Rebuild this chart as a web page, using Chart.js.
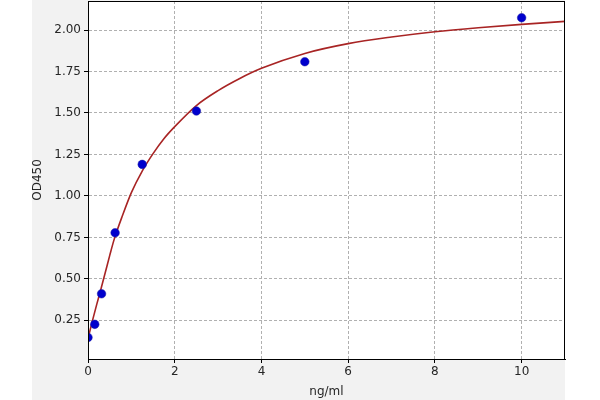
<!DOCTYPE html>
<html>
<head>
<meta charset="utf-8">
<script src="https://cdn.jsdelivr.net/npm/chart.js@4.4.0/dist/chart.umd.min.js"></script>
<style>
    html, body { margin: 0; padding: 0; background: #fff; }
    #wrap { width: 600px; height: 400px; }
</style>
</head>
<body>
<div id="wrap"><canvas id="stdCurve" width="600" height="400"></canvas></div>
<script>
// Standards (ng/ml) and the measured OD450.
const concentrations = [0, 0.156, 0.3125, 0.625, 1.25, 2.5, 5, 10];
const odValues = [0.147, 0.226, 0.41, 0.778, 1.19, 1.512, 1.809, 2.074];

// Fitted curve, points.
const curveX = [0, 0.1, 0.2, 0.3, 0.4, 0.5, 0.6, 0.8, 1.0, 1.25, 1.5, 1.75, 2, 2.5, 3, 3.5, 4, 5, 6, 7, 8, 9, 10, 11];
const curveY = [0.14, 0.245, 0.345, 0.44, 0.54, 0.64, 0.735, 0.885, 1.02, 1.15, 1.255, 1.345, 1.418, 1.545, 1.635, 1.708, 1.769, 1.859, 1.918, 1.958, 1.99, 2.014, 2.034, 2.052];

// Tick labels.
const xTicks = [0, 2, 4, 6, 8, 10];
const yTicks = [0.25, 0.5, 0.75, 1.0, 1.25, 1.5, 1.75, 2.0];

const xLabel = 'ng/ml';
const yLabel = 'OD450';


// Gray figure, white plot area and the black frame round it.
const frame = {
    id: 'frame',
    beforeDraw(chart) {
        const {ctx, chartArea: a} = chart;
        ctx.save();
        ctx.fillStyle = '#f2f2f2';
        ctx.fillRect(32, 0, 533, 400);
        ctx.fillStyle = '#ffffff';
        ctx.fillRect(a.left, a.top, a.right - a.left, a.bottom - a.top);
        ctx.restore();
    },
    afterDraw(chart) {
        const {ctx, chartArea: a} = chart;
        ctx.save();
        ctx.strokeStyle = '#000';
        ctx.lineWidth = 1;
        ctx.strokeRect(a.left + 0.5, a.top + 0.5, a.right - a.left - 1, a.bottom - a.top);
        ctx.restore();
    }
};

const tickFont = {family: 'DejaVu Sans', size: 12};

Chart.defaults.color = '#262626';

new Chart(document.getElementById('stdCurve'), {
    type: 'scatter',
    data: {
        datasets: [{
            // standards
            data: concentrations.map((x, i) => ({x: x, y: odValues[i]})),
            backgroundColor: '#0000cd',
            borderColor: '#1a1aa0',
            borderWidth: 0.5,
            pointRadius: 4.3,
            order: 0
        }, {
            // fitted curve
            data: curveX.map((x, i) => ({x: x, y: curveY[i]})),
            showLine: true,
            borderColor: '#a82424',
            borderWidth: 1.6,
            pointRadius: 0,
            cubicInterpolationMode: 'monotone',
            order: 1
        }]
    },
    options: {
        responsive: false,
        animation: false,
        events: [],
        layout: {
            autoPadding: false,
            padding: {left: 32, right: 35, top: 1, bottom: 0}
        },
        plugins: {
            legend: {display: false},
            tooltip: {enabled: false}
        },
        scales: {
            x: {
                type: 'linear',
                min: 0,
                max: 11,
                afterBuildTicks: s => { s.ticks = xTicks.map(v => ({value: v})); },
                afterFit: s => {
                    s.height = 41;
                    s.paddingLeft = 0;
                    s.paddingRight = 0;
                },
                ticks: {
                    font: tickFont,
                    padding: 2,
                    maxRotation: 0,
                    includeBounds: false
                },
                grid: {
                    color: '#b0b0b0',
                    lineWidth: 1,
                    tickColor: '#000',
                    tickLength: 4
                },
                border: {color: '#000', width: 1, dash: [3, 2]},
                title: {
                    display: true,
                    text: xLabel,
                    font: tickFont,
                    padding: {top: 0, bottom: 1}
                }
            },
            y: {
                type: 'linear',
                min: 0.017,
                max: 2.175,
                afterBuildTicks: s => { s.ticks = yTicks.map(v => ({value: v})); },
                afterFit: s => {
                    s.width = 56;
                    s.paddingTop = 0;
                    s.paddingBottom = 0;
                },
                ticks: {
                    font: tickFont,
                    padding: 3,
                    includeBounds: false,
                    callback: v => v.toFixed(2)
                },
                grid: {
                    color: '#b0b0b0',
                    lineWidth: 1,
                    tickColor: '#000',
                    tickLength: 4
                },
                border: {color: '#000', width: 1, dash: [3, 2]},
                title: {
                    display: true,
                    text: yLabel,
                    font: tickFont,
                    padding: {top: -1, bottom: 0}
                }
            }
        }
    },
    plugins: [frame]
});
</script>
</body>
</html>
